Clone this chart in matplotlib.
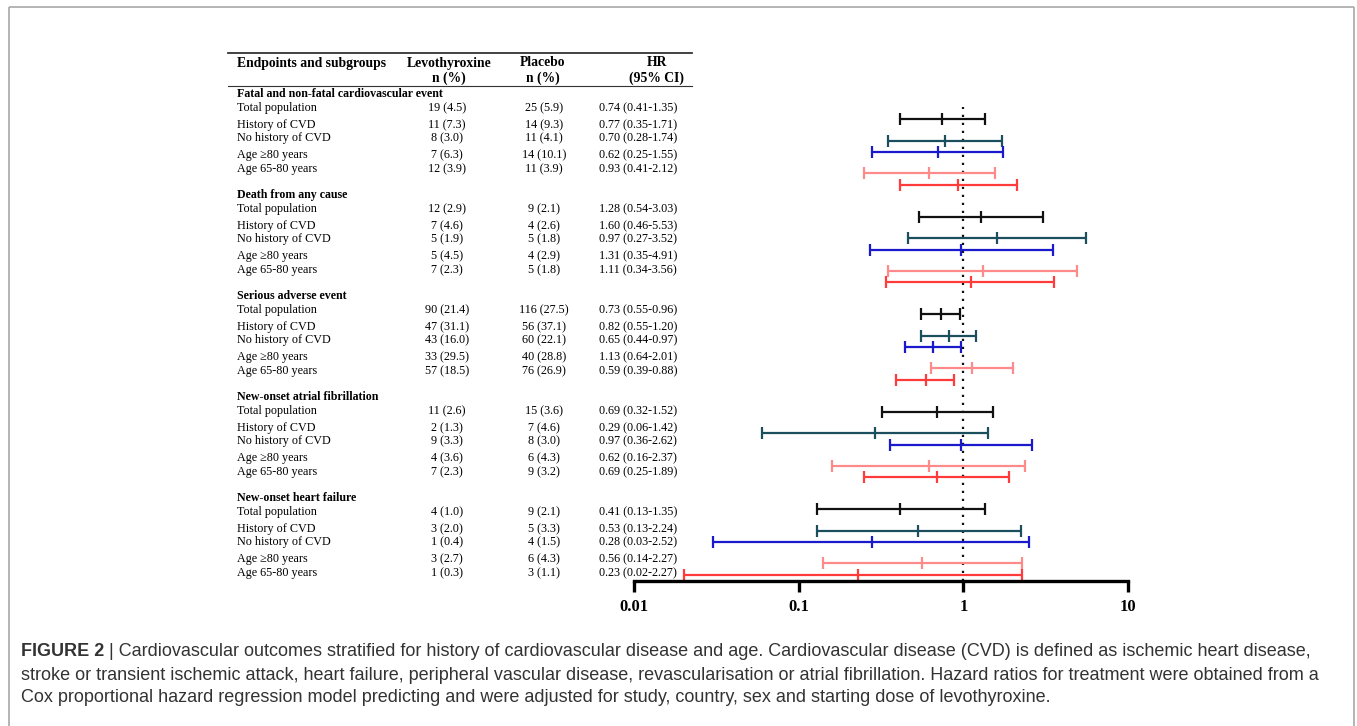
import matplotlib
matplotlib.use("Agg")
import matplotlib.pyplot as plt
import numpy as np

# ---------------- data ----------------
endpoints = ["Fatal and non-fatal cardiovascular event", "Death from any cause",
             "Serious adverse event", "New-onset atrial fibrillation",
             "New-onset heart failure"]
subgroups = ["Total population", "History of CVD", "No history of CVD",
             "Age \u226580 years", "Age 65-80 years"]
levo = [["19 (4.5)", "11 (7.3)", "8 (3.0)", "7 (6.3)", "12 (3.9)"],
        ["12 (2.9)", "7 (4.6)", "5 (1.9)", "5 (4.5)", "7 (2.3)"],
        ["90 (21.4)", "47 (31.1)", "43 (16.0)", "33 (29.5)", "57 (18.5)"],
        ["11 (2.6)", "2 (1.3)", "9 (3.3)", "4 (3.6)", "7 (2.3)"],
        ["4 (1.0)", "3 (2.0)", "1 (0.4)", "3 (2.7)", "1 (0.3)"]]
placebo = [["25 (5.9)", "14 (9.3)", "11 (4.1)", "14 (10.1)", "11 (3.9)"],
           ["9 (2.1)", "4 (2.6)", "5 (1.8)", "4 (2.9)", "5 (1.8)"],
           ["116 (27.5)", "56 (37.1)", "60 (22.1)", "40 (28.8)", "76 (26.9)"],
           ["15 (3.6)", "7 (4.6)", "8 (3.0)", "6 (4.3)", "9 (3.2)"],
           ["9 (2.1)", "5 (3.3)", "4 (1.5)", "6 (4.3)", "3 (1.1)"]]
hr = [[0.74, 0.77, 0.70, 0.62, 0.93],
      [1.28, 1.60, 0.97, 1.31, 1.11],
      [0.73, 0.82, 0.65, 1.13, 0.59],
      [0.69, 0.29, 0.97, 0.62, 0.69],
      [0.41, 0.53, 0.28, 0.56, 0.23]]
lo = [[0.41, 0.35, 0.28, 0.25, 0.41],
      [0.54, 0.46, 0.27, 0.35, 0.34],
      [0.55, 0.55, 0.44, 0.64, 0.39],
      [0.32, 0.06, 0.36, 0.16, 0.25],
      [0.13, 0.13, 0.03, 0.14, 0.02]]
hi = [[1.35, 1.71, 1.74, 1.55, 2.12],
      [3.03, 5.53, 3.52, 4.91, 3.56],
      [0.96, 1.20, 0.97, 2.01, 0.88],
      [1.52, 1.42, 2.62, 2.37, 1.89],
      [1.35, 2.24, 2.52, 2.27, 2.27]]
xticks = [0.01, 0.1, 1, 10]
xtick_labels = ["0.01", "0.1", "1", "10"]
header_cols = [("Endpoints and subgroups", ""), ("Levothyroxine", "n (%)"),
               ("Placebo", "n (%)"), ("HR", "(95% CI)")]
caption_bold = "FIGURE 2"
caption_lines = [
    " | Cardiovascular outcomes stratified for history of cardiovascular disease and age. Cardiovascular disease (CVD) is defined as ischemic heart disease,",
    "stroke or transient ischemic attack, heart failure, peripheral vascular disease, revascularisation or atrial fibrillation. Hazard ratios for treatment were obtained from a",
    "Cox proportional hazard regression model predicting and were adjusted for study, country, sex and starting dose of levothyroxine.",
]

# ---------------- style / layout ----------------
sub_colors = ["#111111", "#1c4f5d", "#1a1acc", "#ff8a8a", "#ff3b3b"]
W, H = 1357, 726
SERIF = ["Liberation Serif", "DejaVu Serif"]
SANS = ["Liberation Sans", "DejaVu Sans"]

fig = plt.figure(figsize=(W / 100, H / 100), dpi=100)
fig.patch.set_facecolor("white")

# overlay axes in pixel coordinates for the table, frame and caption
ax0 = fig.add_axes([0, 0, 1, 1])
ax0.set_xlim(0, W)
ax0.set_ylim(H, 0)
ax0.axis("off")

# frame
frame_kw = dict(color="#a8a8a8", lw=1.2, solid_capstyle="butt")
ax0.plot([9, 9], [6.5, H + 5], **frame_kw)
ax0.plot([1353.5, 1353.5], [6.5, H + 5], **frame_kw)
ax0.plot([9, 1353.5], [6.5, 6.5], **frame_kw)

# table rules
ax0.plot([228, 692], [53, 53], color="#333333", lw=1.3)
ax0.plot([228, 692], [85.5, 85.5], color="#333333", lw=0.8)

tfs = 8.7
hfs = 9.8
sfs = 8.6
col_x = [237, 447, 544, 638]
hdr_x = [237, 449, 543, 656.5]
for i, (h1, h2) in enumerate(header_cols):
    ha = "left" if i == 0 else "center"
    ax0.text(hdr_x[i], 63, h1, ha=ha, va="center", fontsize=hfs,
             fontweight="bold", family=SERIF)
    if h2:
        ax0.text(hdr_x[i], 78.5, h2, ha=ha, va="center", fontsize=hfs,
                 fontweight="bold", family=SERIF)

tab_group_y0 = 94
tab_group_step = 101
tab_row_off = [14, 31, 44, 61, 75]
for g, ep in enumerate(endpoints):
    gy = tab_group_y0 + g * tab_group_step
    ax0.text(col_x[0], gy, ep, ha="left", va="center", fontsize=sfs,
             fontweight="bold", family=SERIF)
    for r, sg in enumerate(subgroups):
        ry = gy + tab_row_off[r]
        ax0.text(col_x[0], ry, sg, ha="left", va="center", fontsize=tfs, family=SERIF)
        ax0.text(col_x[1], ry, levo[g][r], ha="center", va="center", fontsize=tfs, family=SERIF)
        ax0.text(col_x[2], ry, placebo[g][r], ha="center", va="center", fontsize=tfs, family=SERIF)
        ax0.text(col_x[3], ry, f"{hr[g][r]:.2f} ({lo[g][r]:.2f}-{hi[g][r]:.2f})",
                 ha="center", va="center", fontsize=tfs, family=SERIF)

# ---------------- forest plot ----------------
x0_px, x1_px = 634, 1128
y_top, y_bot = 100, 581
ax = fig.add_axes([x0_px / W, 1 - y_bot / H, (x1_px - x0_px) / W, (y_bot - y_top) / H])
ax.patch.set_alpha(0)
ax.set_xscale("log")
ax.set_xlim(0.01, 10)
ax.set_ylim(y_bot, y_top)

ax.axvline(1, ymin=0, ymax=(y_bot - 107) / (y_bot - y_top), color="#111111",
           lw=1.6, linestyle=(0, (1, 2.6)), dash_capstyle="butt")

fp_group_y0 = 119
fp_group_step = 97.5
fp_row_off = [0, 21.5, 33, 54, 65.5]
for g in range(len(endpoints)):
    for r in range(len(subgroups)):
        y = fp_group_y0 + g * fp_group_step + fp_row_off[r]
        h = hr[g][r]
        ax.errorbar([h], [y], xerr=[[h - lo[g][r]], [hi[g][r] - h]], fmt="none",
                    ecolor=sub_colors[r], elinewidth=1.6, capsize=4.6, capthick=1.6)
        ax.plot([h], [y], marker="|", markersize=9.2, mew=1.6, color=sub_colors[r])

for s in ["top", "right", "left"]:
    ax.spines[s].set_visible(False)
ax.spines["bottom"].set_linewidth(2.4)
ax.spines["bottom"].set_color("black")
ax.set_yticks([])
ax.set_xticks(xticks)
ax.set_xticklabels(xtick_labels)
ax.xaxis.set_minor_locator(matplotlib.ticker.NullLocator())
ax.tick_params(axis="x", direction="out", length=8, width=2.4, color="black", pad=5)
for lbl in ax.get_xticklabels():
    lbl.set_fontfamily(SERIF)
    lbl.set_fontweight("bold")
    lbl.set_fontsize(12)

# ---------------- caption ----------------
cfs = 13
cap_y = [651, 675, 698]
cap_col = "#333333"
tb = ax0.text(21, cap_y[0], caption_bold, ha="left", va="center", fontsize=cfs,
              fontweight="bold", family=SANS, color=cap_col)
fig.canvas.draw()
bb = tb.get_window_extent()
x_after = bb.x1  # pixels (same as data x since ax0 spans the figure)
ax0.text(x_after, cap_y[0], caption_lines[0], ha="left", va="center", fontsize=cfs,
         family=SANS, color=cap_col)
for i in range(1, 3):
    ax0.text(21, cap_y[i], caption_lines[i], ha="left", va="center", fontsize=cfs,
             family=SANS, color=cap_col)

fig.savefig("out.png", dpi=100, facecolor="white")
